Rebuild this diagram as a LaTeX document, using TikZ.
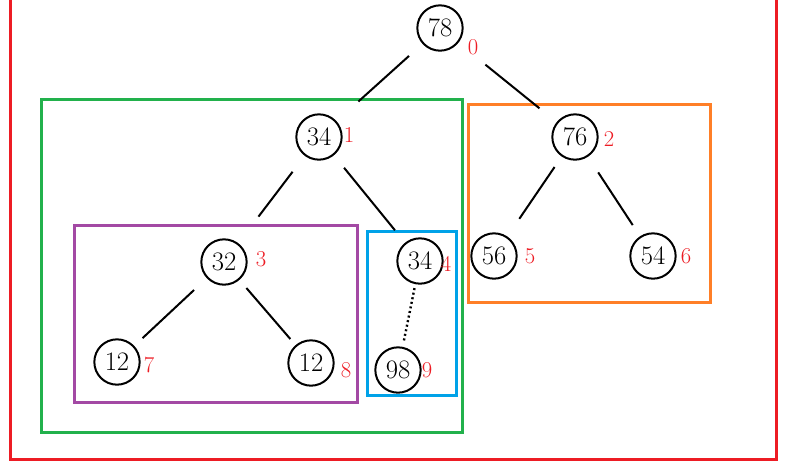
\documentclass[tikz,border=0pt]{standalone}
\usepackage{fontspec}
\definecolor{pred}{RGB}{237,28,36}
\definecolor{pgreen}{RGB}{34,177,76}
\definecolor{porange}{RGB}{255,127,39}
\definecolor{ppurple}{RGB}{163,73,164}
\definecolor{pblue}{RGB}{0,162,232}
\begin{document}
\begin{tikzpicture}[x=0.75pt,y=-0.75pt,
  vtx/.style={circle,draw,line width=1.5pt,minimum size=34pt,inner sep=0pt,font=\fontsize{20}{24}\selectfont},
  idx/.style={text=pred,font=\fontsize{17}{20}\selectfont,inner sep=0pt},
  edge/.style={line width=1.5pt},
  frame/.style={line width=2.25pt}]
\useasboundingbox (0,0) rectangle (801,469);
% frames
\draw[frame,pred] (10,-10) -- (10,459) -- (776,459) -- (776,-10);
\draw[frame,pgreen] (41,99) rectangle (462,432);
\draw[frame,porange] (468,104) rectangle (710,302);
\draw[frame,ppurple] (74,225) rectangle (357,402);
\draw[frame,pblue] (367,231) rectangle (456,395);
% nodes
\node[vtx] (n0) at (440,28) {78};
\node[vtx] (n1) at (319,137) {34};
\node[vtx] (n2) at (575,137) {76};
\node[vtx] (n3) at (224,262) {32};
\node[vtx] (n4) at (420,261) {34};
\node[vtx] (n5) at (494,256) {56};
\node[vtx] (n6) at (653,256) {54};
\node[vtx] (n7) at (117,362) {12};
\node[vtx] (n8) at (311,363) {12};
\node[vtx] (n9) at (398,370) {98};
% index labels
\node[idx] (l0) at (473,47) {0};
\node[idx] (l1) at (349,135) {1};
\node[idx] (l2) at (609,139) {2};
\node[idx] (l3) at (261,259) {3};
\node[idx] (l4) at (446,264) {4};
\node[idx] (l5) at (530,256) {5};
\node[idx] (l6) at (686,256) {6};
\node[idx] (l7) at (149,365) {7};
\node[idx] (l8) at (346,370) {8};
\node[idx] (l9) at (427,370) {9};
% edges
\draw[edge,shorten <=13.5pt,shorten >=22pt] (n0) -- (n1);
\draw[edge,shorten <=26pt,shorten >=16.5pt] (n0) -- (n2);
\draw[edge,shorten <=15pt,shorten >=25pt] (n1) -- (n3);
\draw[edge,shorten <=12pt,shorten >=12pt] (n1) -- (n4);
\draw[edge,shorten <=9.5pt,shorten >=16pt] (n2) -- (n5);
\draw[edge,shorten <=14pt,shorten >=10pt] (n2) -- (n6);
\draw[edge,shorten <=13pt,shorten >=8.5pt] (n3) -- (n7);
\draw[edge,shorten <=8pt,shorten >=6pt] (n3) -- (n8);
\draw[edge,dotted,line width=1.8pt,shorten <=3pt,shorten >=4pt] (n4) -- (n9);
\end{tikzpicture}
\end{document}
